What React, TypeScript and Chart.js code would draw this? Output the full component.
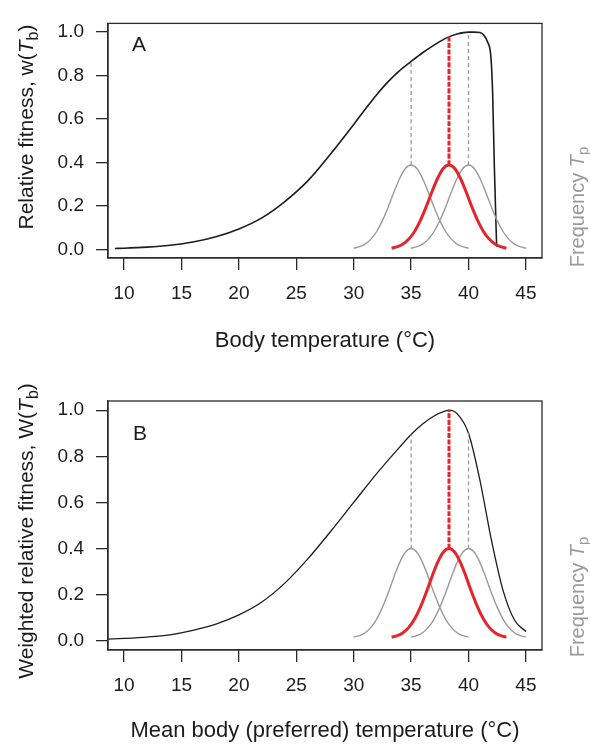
import React, { useEffect, useRef } from "react";
import { Chart, registerables } from "chart.js";

Chart.register(...registerables);

// ---------- data ----------
const xTicks = [10, 15, 20, 25, 30, 35, 40, 45];
const yTicks = [0, 0.2, 0.4, 0.6, 0.8, 1.0];

// Panel A: relative fitness w(Tb)
const fitATemps = [9.2, 10, 12, 14, 16, 18, 20, 22, 24, 26, 28, 30, 31, 32, 33, 34, 35, 36, 37, 38, 39, 40, 40.5, 41, 41.25, 41.65, 41.95, 42.1, 42.25, 42.45];
const fitAValues = [0.004, 0.005, 0.01, 0.019, 0.034, 0.058, 0.094, 0.145, 0.22, 0.315, 0.44, 0.575, 0.645, 0.712, 0.772, 0.823, 0.865, 0.905, 0.94, 0.971, 0.991, 1.0, 1.0, 0.998, 0.99, 0.955, 0.885, 0.72, 0.38, 0.012];

// Panel B: weighted relative fitness W(Tb)
const fitBTemps = [8.6, 10, 12, 14, 16, 18, 20, 22, 24, 26, 28, 30, 32, 34, 35, 36, 37, 38, 38.3, 39, 40, 41, 42, 43, 44, 45];
const fitBValues = [0.007, 0.01, 0.016, 0.026, 0.045, 0.072, 0.112, 0.168, 0.25, 0.355, 0.475, 0.6, 0.725, 0.84, 0.895, 0.94, 0.975, 0.997, 1.0, 0.985, 0.9, 0.695, 0.435, 0.22, 0.09, 0.04];

// Frequency distributions of preferred temperature (Tp)
const freqCentres = [35, 38.3, 40];
const freqOffsets = [-5, -4.5, -4, -3.5, -3, -2.5, -2, -1.5, -1, -0.5, 0, 0.5, 1, 1.5, 2, 2.5, 3, 3.5, 4, 4.5, 5];
const freqHeightsA = [0.005, 0.012, 0.024, 0.047, 0.082, 0.132, 0.194, 0.263, 0.326, 0.372, 0.388, 0.372, 0.326, 0.263, 0.194, 0.132, 0.082, 0.047, 0.024, 0.012, 0.005];
const freqHeightsB = [0.016, 0.022, 0.035, 0.058, 0.094, 0.145, 0.207, 0.276, 0.339, 0.384, 0.4, 0.384, 0.339, 0.276, 0.207, 0.145, 0.094, 0.058, 0.035, 0.022, 0.016];

// Fitness reached at each distribution's mean (top of dashed drop lines)
const dropTopA = [0.865, 0.98, 1.0];
const dropTopB = [0.895, 1.0, 0.9];

// ---------- styling ----------
const FONT = "'Liberation Sans', Arial, Helvetica, sans-serif";
const INK = "#1c1c1c";
const GREY = "#9a9a9a";
const RED = "#e2262b";

type Part = { t: string; italic?: boolean; sub?: boolean };

function drawRich(ctx: CanvasRenderingContext2D, parts: Part[], x: number, y: number, size: number, color: string, rotate: boolean) {
  ctx.save();
  ctx.translate(x, y);
  if (rotate) ctx.rotate(-Math.PI / 2);
  ctx.fillStyle = color;
  ctx.textAlign = "left";
  ctx.textBaseline = "alphabetic";
  const fonts = parts.map((p) => `${p.italic ? "italic " : ""}${p.sub ? Math.round(size * 0.75) : size}px ${FONT}`);
  const widths = parts.map((p, i) => {
    ctx.font = fonts[i];
    return ctx.measureText(p.t).width;
  });
  const total = widths.reduce((a, b) => a + b, 0);
  let cx = -total / 2;
  parts.forEach((p, i) => {
    ctx.font = fonts[i];
    ctx.fillText(p.t, cx, p.sub ? size * 0.22 : 0);
    cx += widths[i];
  });
  ctx.restore();
}

type PanelProps = {
  fitTemps: number[];
  fitValues: number[];
  freqHeights: number[];
  dropTop: number[];
  letter: string;
  letterX: number;
  letterY: number;
  xTitle: string;
  xTitleY: number;
  yTitle: Part[];
  yTitleY: number;
  freqLabelY: number;
  padTop: number;
  xAxisHeight: number;
  fitWidth: number;
};

function makeConfig(p: PanelProps): any {
  const peakIdx = freqOffsets.indexOf(0);
  const peak = p.freqHeights[peakIdx];
  const freqData = (c: number) => freqOffsets.map((o, i) => ({ x: c + o, y: p.freqHeights[i] }));
  const dropData = (k: number) => [
    { x: freqCentres[k], y: peak },
    { x: freqCentres[k], y: p.dropTop[k] },
  ];

  const decor = {
    id: "decor",
    afterDraw(chart: any) {
      const { ctx, chartArea: a } = chart;
      ctx.save();
      ctx.strokeStyle = "#2a2a2a";
      ctx.lineWidth = 1.3;
      ctx.strokeRect(a.left, a.top, a.right - a.left, a.bottom - a.top);
      ctx.fillStyle = INK;
      ctx.font = `21px ${FONT}`;
      ctx.textAlign = "center";
      ctx.textBaseline = "alphabetic";
      ctx.fillText(p.letter, p.letterX, p.letterY);
      ctx.font = `22px ${FONT}`;
      ctx.fillText(p.xTitle, (a.left + a.right) / 2, p.xTitleY);
      ctx.restore();
      drawRich(ctx, p.yTitle, 33, p.yTitleY, 21, INK, true);
      drawRich(ctx, [{ t: "Frequency " }, { t: "T", italic: true }, { t: "p", sub: true }], 584, p.freqLabelY, 20, GREY, true);
    },
  };

  const line = (data: any[], color: string, width: number, dash: number[] = []) => ({
    data,
    borderColor: color,
    borderWidth: width,
    borderDash: dash,
    pointRadius: 0,
    fill: false,
    cubicInterpolationMode: "monotone",
  });

  return {
    type: "line",
    data: {
      datasets: [
        line(dropData(1), RED, 3, [5, 1.5]),
        line(freqData(freqCentres[1]), RED, 3),
        line(dropData(0), GREY, 1.3, [4, 3]),
        line(dropData(2), GREY, 1.3, [4, 3]),
        line(freqData(freqCentres[0]), GREY, 1.4),
        line(freqData(freqCentres[2]), GREY, 1.4),
        line(p.fitTemps.map((t, i) => ({ x: t, y: p.fitValues[i] })), INK, p.fitWidth),
      ],
    },
    options: {
      responsive: false,
      animation: false,
      events: [],
      layout: { padding: { top: p.padTop, right: 48, left: 0, bottom: 0 } },
      plugins: { legend: { display: false }, tooltip: { enabled: false } },
      scales: {
        x: {
          type: "linear",
          min: 8.6,
          max: 46.4,
          afterBuildTicks: (s: any) => {
            s.ticks = xTicks.map((v) => ({ value: v }));
          },
          afterFit: (s: any) => {
            s.height = p.xAxisHeight;
          },
          grid: { drawOnChartArea: false, drawTicks: true, tickLength: 12, color: "#2a2a2a", lineWidth: 1.3 },
          border: { display: true, color: "#2a2a2a", width: 1.3 },
          ticks: {
            autoSkip: false,
            maxRotation: 0,
            padding: 12,
            color: INK,
            font: { family: FONT, size: 19 },
            callback: (v: any) => String(v),
          },
        },
        y: {
          type: "linear",
          min: -0.04,
          max: 1.04,
          afterBuildTicks: (s: any) => {
            s.ticks = yTicks.map((v) => ({ value: v }));
          },
          afterFit: (s: any) => {
            s.width = 108;
          },
          grid: { drawOnChartArea: false, drawTicks: true, tickLength: 12, color: "#2a2a2a", lineWidth: 1.3 },
          border: { display: true, color: "#2a2a2a", width: 1.3 },
          ticks: {
            padding: 12,
            color: INK,
            font: { family: FONT, size: 19 },
            callback: (v: any) => Number(v).toFixed(1),
          },
        },
      },
    },
    plugins: [decor],
  };
}

function Panel(props: PanelProps) {
  const ref = useRef<HTMLCanvasElement | null>(null);
  useEffect(() => {
    const chart = new Chart(ref.current as HTMLCanvasElement, makeConfig(props));
    return () => chart.destroy();
  }, []);
  return <canvas ref={ref} width={590} height={374} style={{ display: "block", width: 590, height: 374 }} />;
}

export default function App() {
  return (
    <div style={{ position: "absolute", left: 0, top: 0, width: 590, height: 748, background: "#fff" }}>
      <Panel
        fitTemps={fitATemps}
        fitValues={fitAValues}
        freqHeights={freqHeightsA}
        dropTop={dropTopA}
        letter="A"
        letterX={139}
        letterY={51}
        xTitle="Body temperature (°C)"
        xTitleY={347}
        yTitle={[{ t: "Relative fitness, w(" }, { t: "T", italic: true }, { t: "b", sub: true }, { t: ")" }]}
        yTitleY={127}
        freqLabelY={207}
        padTop={9}
        xAxisHeight={116}
        fitWidth={1.6}
      />
      <Panel
        fitTemps={fitBTemps}
        fitValues={fitBValues}
        freqHeights={freqHeightsB}
        dropTop={dropTopB}
        letter="B"
        letterX={140}
        letterY={66}
        xTitle="Mean body (preferred) temperature (°C)"
        xTitleY={363}
        yTitle={[{ t: "Weighted relative fitness, W(" }, { t: "T", italic: true }, { t: "b", sub: true }, { t: ")" }]}
        yTitleY={157}
        freqLabelY={223}
        padTop={27}
        xAxisHeight={98}
        fitWidth={1.3}
      />
    </div>
  );
}
